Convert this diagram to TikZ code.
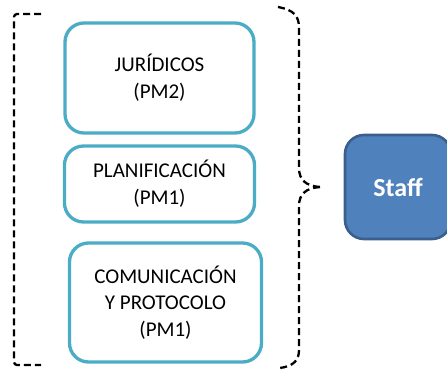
\documentclass[tikz,border=0pt]{standalone}
\usepackage{fontspec}
\setmainfont{Carlito}
\usetikzlibrary{positioning}

\definecolor{boxline}{HTML}{4BACC6}
\definecolor{stafffill}{HTML}{4F81BD}
\definecolor{staffline}{HTML}{3A5F8C}

\tikzset{
    unitbox/.style={rectangle, draw=boxline, line width=3.3pt, rounded corners=19pt,
        fill=white, align=center, outer sep=0pt, minimum width=190pt,
        font=\fontsize{21}{26.8}\selectfont},
    staffbox/.style={rectangle, draw=staffline, fill=stafffill, line width=2.6pt,
        rounded corners=19pt, align=center, outer sep=0pt, text=white,
        minimum width=106pt, minimum height=104pt,
        font=\fontsize{26}{30}\selectfont\bfseries},
    bracketline/.style={draw=black, line width=2.3pt, dash pattern=on 7pt off 4pt}
}

\begin{document}
\begin{tikzpicture}[x=1pt, y=1pt]
    \useasboundingbox (0,0) rectangle (447,-370);

        %-----Units-----
        % Juridicos
        \node [unitbox, minimum width=189pt, minimum height=110pt] (juridicos) at (159.5,-78) {%
            JURÍDICOS \\
            (PM2)
        };

        % Planificacion
        \node [unitbox, minimum height=76pt, below=13pt of juridicos] (planif) {%
            PLANIFICACIÓN \\
            (PM1)
        };

        % Comunicacion y protocolo
        \node [unitbox, minimum width=192pt, minimum height=119pt, below=21pt of planif, xshift=6pt] (comunic) {%
            COMUNICACIÓN \\
            Y PROTOCOLO \\
            (PM1)
        };

        %-----Brackets-----
        % left bracket
        \draw [bracketline, rounded corners=3pt] (41,-14) -- (14,-14) -- (14,-365) -- (41,-365);

        % right brace
        \coordinate (tip) at (320,-187);
        \draw [bracketline] (278,-7) .. controls (294,-10) and (299,-16) .. (299,-28)
            -- (299,-168) .. controls (299,-180) and (306,-186) .. (tip);
        \draw [bracketline] (tip) .. controls (306,-188) and (299,-194) .. (299,-206)
            -- (299,-350) .. controls (299,-360) and (294,-366) .. (280,-368);

        %-----Staff-----
        \node [staffbox, right=25pt of tip] (staff) {Staff};

    \end{tikzpicture}
\end{document}
